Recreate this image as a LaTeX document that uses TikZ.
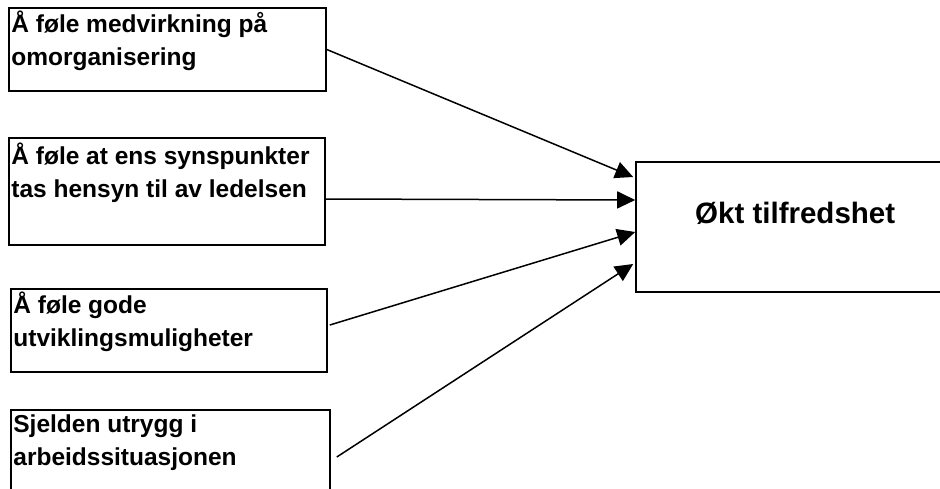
\documentclass[tikz,border=0pt]{standalone}
\usepackage{fontspec}
\setmainfont{Liberation Sans}
\usetikzlibrary{arrows.meta,calc}
\tikzset{
  boxnode/.style={draw=black, line width=1.6pt, fill=white, inner sep=0pt},
  boxtext/.style={font=\fontsize{24.5}{33}\selectfont\bfseries, align=left, inner sep=0pt, anchor=base west},
  conn/.style={line width=1.5pt, -{Triangle[length=18pt,width=17pt]}}
}
\begin{document}
\begin{tikzpicture}[x=1pt,y=-1pt]
\useasboundingbox (0,0) rectangle (940,488);
\clip (0,0) rectangle (940,488);
\fill[white] (0,0) rectangle (940,488);
% left boxes
\node[boxnode, minimum width=317pt, minimum height=83pt] (b1) at (167.5,49.5) {};
\node[boxnode, minimum width=316pt, minimum height=107pt] (b2) at (167,191.5) {};
\node[boxnode, minimum width=316pt, minimum height=83pt] (b3) at (169,330.5) {};
\node[boxnode, minimum width=319pt, minimum height=83pt] (b4) at (170.5,451.5) {};
% right box
\node[boxnode, minimum width=309pt, minimum height=130pt] (r) at (790.5,227) {};
% texts (base anchor = baseline of last line)
\node[boxtext] (t1) at ($(b1.north west)+(3,58)$) {Å føle medvirkning på\\omorganisering};
\node[boxtext] (t2) at ($(b2.north west)+(3,60)$) {Å føle at ens synspunkter\\tas hensyn til av ledelsen};
\node[boxtext] (t3) at ($(b3.north west)+(3,58)$) {Å føle gode\\utviklingsmuligheter};
\node[boxtext] (t4) at ($(b4.north west)+(3,56)$) {Sjelden utrygg i\\arbeidssituasjonen};
\node[font=\fontsize{29.5}{35}\selectfont\bfseries, inner sep=0pt, anchor=base west] (tr) at (695,223) {Økt tilfredshet};
% connectors
\draw[conn] (b1.east) -- ($(r.west)+(-2,-50)$);
\draw[conn] ($(b2.east)+(0,7.5)$) -- ($(r.west)+(0,-27)$);
\draw[conn] ($(b3.east)+(2,-5.5)$) -- ($(r.west)+(0,5)$);
\draw[conn] ($(b4.east)+(6,5.5)$) -- ($(r.west)+(-2,37)$);
\end{tikzpicture}
\end{document}
